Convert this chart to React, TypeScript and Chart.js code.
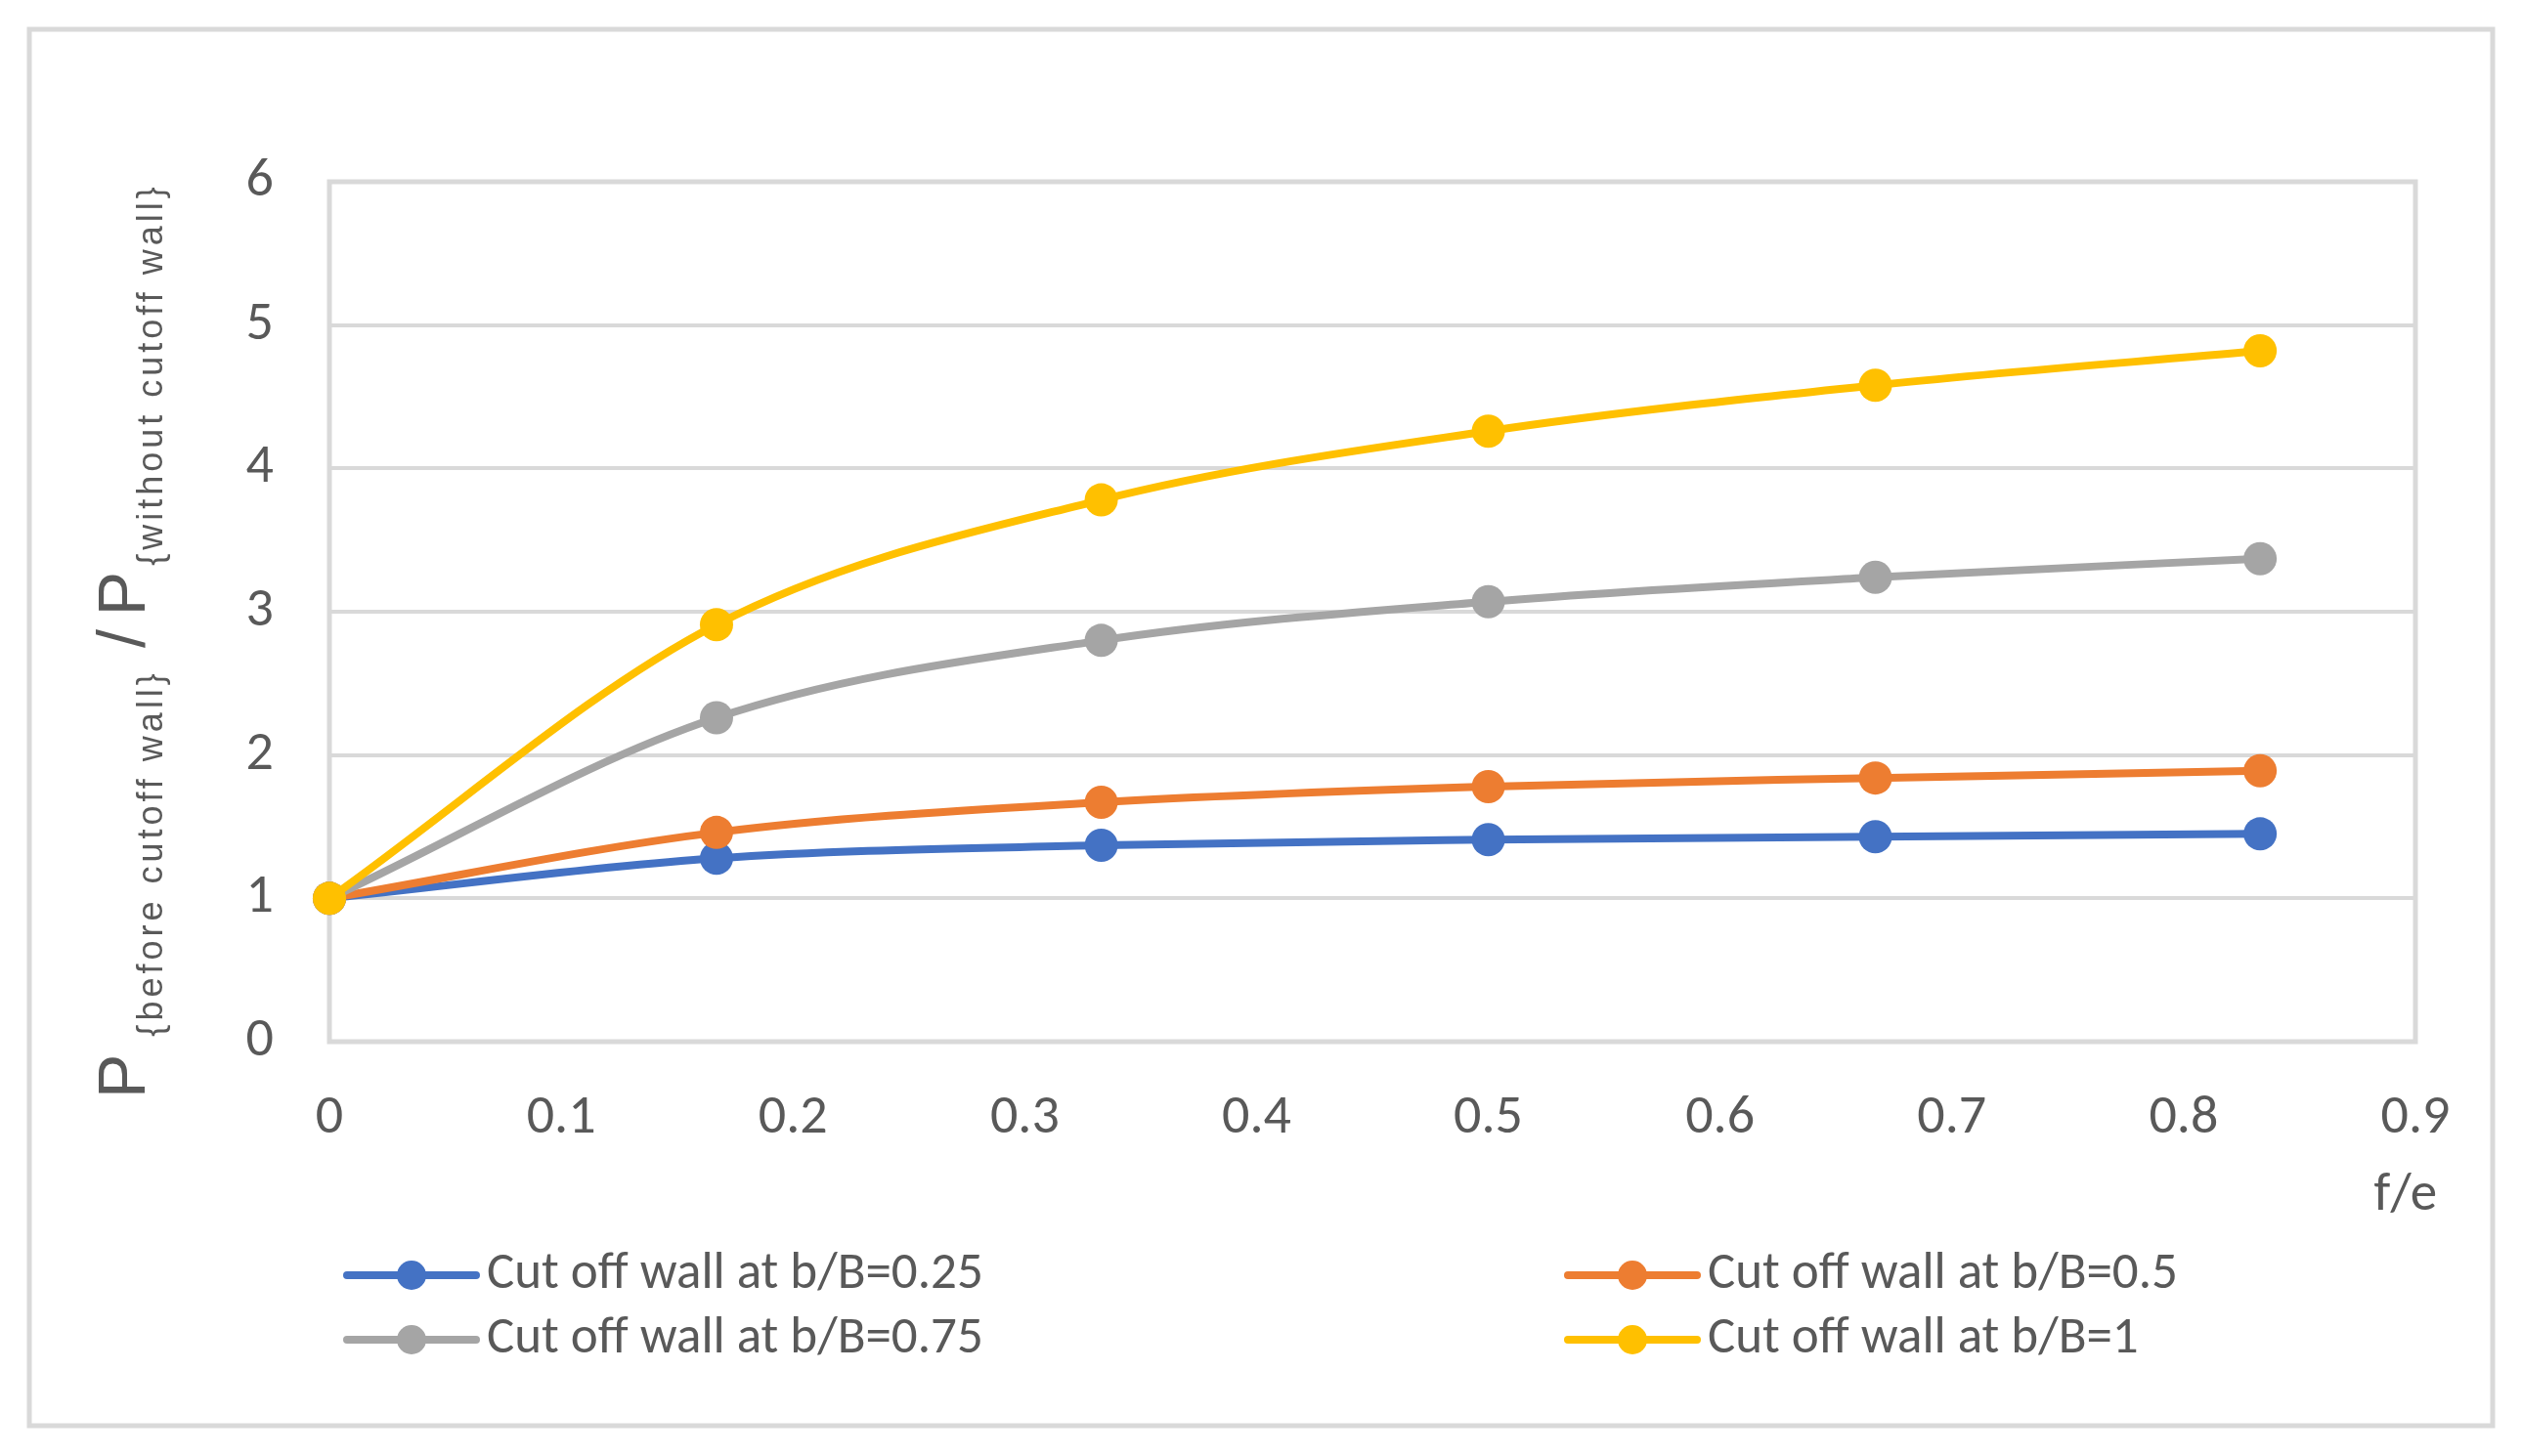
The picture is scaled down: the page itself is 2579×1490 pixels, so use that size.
import { useEffect, useRef } from "react";
import { Chart, registerables } from "chart.js";
Chart.register(...registerables);

// f/e positions of the computed points
const feValues = [0, 0.167, 0.333, 0.5, 0.667, 0.833];

// P(before cutoff wall) / P(without cutoff wall), one list per wall position
const wallB025 = [1, 1.28, 1.37, 1.41, 1.43, 1.45];
const wallB05 = [1, 1.46, 1.67, 1.78, 1.84, 1.89];
const wallB075 = [1, 2.26, 2.8, 3.07, 3.24, 3.37];
const wallB1 = [1, 2.91, 3.78, 4.26, 4.58, 4.82];

const seriesNames = [
  "Cut off wall at b/B=0.25",
  "Cut off wall at b/B=0.5",
  "Cut off wall at b/B=0.75",
  "Cut off wall at b/B=1",
];
const seriesColors = ["#4472C4", "#ED7D31", "#A5A5A5", "#FFC000"];

const xTickLabels = ["0", "0.1", "0.2", "0.3", "0.4", "0.5", "0.6", "0.7", "0.8", "0.9"];
const yTickLabels = ["0", "1", "2", "3", "4", "5", "6"];
const xTitle = "f/e";

const TEXT = "#595959";
const LINE = "#D9D9D9";
const TICK_FONT = "Carlito, 'Liberation Sans Narrow', Lato, sans-serif";
const TITLE_FONT = "'Liberation Sans', Arial, sans-serif";

const frame = {
  id: "frame",
  beforeDraw(chart: Chart) {
    const { ctx } = chart;
    ctx.save();
    ctx.fillStyle = "#fff";
    ctx.fillRect(0, 0, chart.width, chart.height);
    ctx.strokeStyle = LINE;
    ctx.lineWidth = 5;
    ctx.strokeRect(30, 30, 2520, 1429);
    ctx.restore();
  },
  beforeDatasetsDraw(chart: Chart) {
    const { ctx, chartArea: a } = chart;
    ctx.save();
    ctx.strokeStyle = LINE;
    ctx.lineWidth = 5;
    ctx.strokeRect(a.left, a.top, a.right - a.left, a.bottom - a.top);
    ctx.restore();
  },
};

const titles = {
  id: "titles",
  afterDraw(chart: Chart) {
    const { ctx, chartArea: a } = chart;
    ctx.save();
    ctx.fillStyle = TEXT;

    // x axis title, right side under the ticks
    ctx.font = `55px ${TICK_FONT}`;
    ctx.textAlign = "right";
    ctx.textBaseline = "middle";
    ctx.fillText(xTitle, a.right + 22, 1224);

    // y axis title with subscripts, rotated
    ctx.rotate(-Math.PI / 2);
    ctx.textAlign = "left";
    ctx.textBaseline = "alphabetic";
    const pieces = [
      { t: "P", size: 68, base: 148, sp: 0, gap: 18 },
      { t: "{before cutoff wall}", size: 36, base: 166, sp: 4, gap: 22 },
      { t: "/", size: 68, base: 148, sp: 0, gap: 14 },
      { t: "P", size: 68, base: 148, sp: 0, gap: 6 },
      { t: "{without cutoff wall}", size: 36, base: 166, sp: 4, gap: 0 },
    ];
    let pos = -1124;
    for (const p of pieces) {
      ctx.font = `${p.size}px ${TITLE_FONT}`;
      (ctx as any).letterSpacing = `${p.sp}px`;
      ctx.fillText(p.t, pos, p.base);
      pos += ctx.measureText(p.t).width + p.gap;
    }
    (ctx as any).letterSpacing = "0px";
    ctx.restore();
  },
};

const legendBox = {
  id: "legendBox",
  afterDraw(chart: Chart) {
    const { ctx } = chart;
    const cols = [355, 1604];
    const rows = [1305, 1371];
    ctx.save();
    chart.data.datasets.forEach((ds: any, i: number) => {
      const x = cols[i % 2];
      const y = rows[Math.floor(i / 2)];
      ctx.strokeStyle = ds.borderColor;
      ctx.lineWidth = 8;
      ctx.lineCap = "round";
      ctx.beginPath();
      ctx.moveTo(x, y);
      ctx.lineTo(x + 132, y);
      ctx.stroke();
      ctx.fillStyle = ds.borderColor;
      ctx.beginPath();
      ctx.arc(x + 66, y, 15, 0, Math.PI * 2);
      ctx.fill();
      ctx.fillStyle = TEXT;
      ctx.font = `53px ${TICK_FONT}`;
      ctx.textAlign = "left";
      ctx.textBaseline = "middle";
      ctx.fillText(ds.label, x + 143, y);
    });
    ctx.restore();
  },
};

export default function App() {
  const ref = useRef<HTMLCanvasElement>(null);
  const chart = useRef<Chart | null>(null);

  useEffect(() => {
    if (!ref.current) return;
    if (chart.current) chart.current.destroy();

    const series = [wallB025, wallB05, wallB075, wallB1];

    chart.current = new Chart(ref.current, {
      type: "line",
      data: {
        datasets: series.map((vals, i) => ({
          label: seriesNames[i],
          data: vals.map((v, j) => ({ x: feValues[j], y: v })),
          borderColor: seriesColors[i],
          backgroundColor: seriesColors[i],
          pointBackgroundColor: seriesColors[i],
          borderWidth: 8,
          pointRadius: 17,
          pointHoverRadius: 17,
          pointBorderWidth: 0,
          cubicInterpolationMode: "monotone" as const,
          clip: false as any,
          order: series.length - 1 - i,
        })),
      },
      options: {
        responsive: true,
        maintainAspectRatio: false,
        animation: false,
        events: [],
        layout: { padding: { left: 0, top: 186, right: 108, bottom: 0 } },
        plugins: { legend: { display: false }, tooltip: { enabled: false } },
        scales: {
          x: {
            type: "linear",
            min: 0,
            max: 0.9,
            afterFit: (s: any) => { s.height = 424; },
            grid: { display: false, drawTicks: false },
            border: { display: false },
            ticks: {
              stepSize: 0.1,
              padding: 45,
              color: TEXT,
              font: { size: 56, family: TICK_FONT },
              maxRotation: 0,
              autoSkip: false,
              callback: (v: any, i: number) => xTickLabels[i] ?? String(v),
            },
          },
          y: {
            min: 0,
            max: 6,
            afterFit: (s: any) => { s.width = 337; },
            grid: { color: LINE, lineWidth: 4, drawTicks: false },
            border: { display: false },
            ticks: {
              stepSize: 1,
              padding: 57,
              color: TEXT,
              font: { size: 56, family: TICK_FONT },
              callback: (v: any, i: number) => yTickLabels[i] ?? String(v),
            },
          },
        },
      },
      plugins: [frame, titles, legendBox],
    });

    return () => chart.current?.destroy();
  }, []);

  return (
    <div style={{ position: "absolute", left: 0, top: 0, width: 2579, height: 1490, background: "#fff" }}>
      <canvas ref={ref} />
    </div>
  );
}
